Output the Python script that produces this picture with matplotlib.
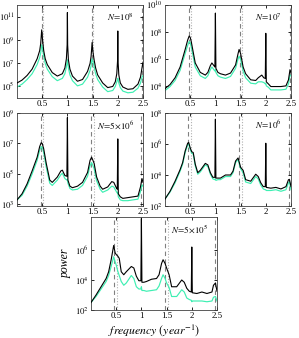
import numpy as np
import matplotlib
matplotlib.use('Agg')
import matplotlib.pyplot as plt

plt.rcParams['font.family'] = ['Liberation Serif', 'DejaVu Serif']
plt.rcParams['mathtext.fontset'] = 'stix'

# power spectra, values as log10(power)
f_1e8 = [0, 0.1, 0.2, 0.3, 0.4, 0.45, 0.47, 0.49, 0.51, 0.53, 0.56, 0.6, 0.7, 0.8, 0.9, 0.95, 0.98, 0.995, 1.0, 1.005,
         1.02, 1.05, 1.1, 1.2, 1.3, 1.4, 1.45, 1.47, 1.49, 1.51, 1.53, 1.56, 1.6, 1.7, 1.8, 1.9, 1.95, 1.98, 1.995, 2.0,
         2.005, 2.02, 2.05, 2.1, 2.2, 2.3, 2.4, 2.45, 2.48, 2.5]
black_1e8 = [5.3, 5.55, 5.95, 6.5, 7.4, 8.1, 8.7, 9.9, 8.9, 8.1, 7.4, 6.9, 6.2, 5.9, 6.1, 6.6, 7.4, 8.6, 11.4, 8.6,
             7.3, 6.5, 5.9, 5.45, 5.6, 6.3, 7.0, 7.6, 8.8, 7.9, 7.3, 6.6, 6.0, 5.3, 4.9, 5.0, 5.4, 6.1, 7.2, 9.8,
             7.2, 6.0, 5.3, 4.95, 4.75, 4.8, 5.2, 5.8, 6.6, 7.1]
green_1e8 = [4.95, 5.2, 5.6, 6.1, 6.9, 7.5, 7.9, 8.6, 8.2, 7.6, 7.0, 6.5, 5.85, 5.5, 5.7, 6.1, 6.7, 7.1, 7.3, 7.1,
             6.6, 6.0, 5.5, 5.05, 5.2, 5.8, 6.4, 6.8, 7.4, 7.1, 6.7, 6.1, 5.6, 4.95, 4.55, 4.65, 5.0, 5.4, 5.6, 5.7,
             5.6, 5.3, 4.9, 4.6, 4.45, 4.5, 4.85, 5.3, 5.8, 5.95]

f_1e7 = [0, 0.1, 0.2, 0.3, 0.4, 0.45, 0.48, 0.5, 0.52, 0.55, 0.6, 0.7, 0.8, 0.85, 0.9, 0.93, 0.97, 0.99, 1.0, 1.01,
         1.05, 1.1, 1.2, 1.3, 1.4, 1.45, 1.47, 1.5, 1.55, 1.6, 1.7, 1.8, 1.85, 1.92, 1.96, 1.99, 2.0, 2.01, 2.05, 2.1,
         2.2, 2.3, 2.4, 2.45, 2.48, 2.5]
black_1e7 = [3.8, 4.1, 4.6, 5.4, 6.7, 7.4, 7.7, 7.6, 7.3, 6.7, 5.7, 5.0, 4.8, 5.0, 5.5, 5.7, 5.5, 5.4, 9.4, 5.3,
             5.0, 4.9, 4.8, 4.95, 5.55, 6.4, 6.7, 6.4, 5.4, 4.9, 4.45, 4.4, 4.6, 4.8, 4.6, 4.55, 7.9, 4.3, 4.15, 3.95,
             3.95, 3.95, 4.0, 4.45, 5.2, 5.0]
green_1e7 = [3.65, 3.95, 4.4, 5.15, 6.4, 7.0, 7.3, 7.2, 6.9, 6.35, 5.4, 4.75, 4.55, 4.75, 5.2, 5.4, 5.2, 5.1, 5.2, 5.0,
             4.75, 4.65, 4.55, 4.7, 5.3, 6.0, 6.2, 5.95, 5.1, 4.6, 4.2, 4.15, 4.3, 4.3, 4.25, 4.15, 4.2, 4.0, 3.9, 3.7,
             3.7, 3.7, 3.75, 4.15, 4.8, 4.75]

f_5e6 = [0, 0.1, 0.2, 0.3, 0.4, 0.45, 0.48, 0.5, 0.53, 0.58, 0.65, 0.7, 0.8, 0.87, 0.9, 0.95, 0.99, 1.0, 1.01, 1.05,
         1.1, 1.2, 1.3, 1.4, 1.45, 1.48, 1.5, 1.53, 1.58, 1.65, 1.7, 1.8, 1.88, 1.92, 1.97, 1.99, 2.0, 2.01, 2.05, 2.1,
         2.2, 2.3, 2.4, 2.45, 2.48, 2.5]
black_5e6 = [3.3, 3.7, 4.35, 5.2, 6.1, 6.8, 7.05, 7.0, 6.65, 5.7, 4.6, 4.45, 4.8, 5.2, 5.25, 4.9, 4.85, 8.7, 4.6, 4.2,
             4.1, 4.2, 4.45, 5.1, 5.9, 6.1, 5.95, 5.7, 4.8, 4.2, 4.0, 4.15, 4.5, 4.45, 4.1, 4.0, 7.3, 3.7, 3.5, 3.4,
             3.45, 3.5, 3.55, 4.15, 4.7, 4.45]
green_5e6 = [3.3, 3.6, 4.2, 5.0, 5.9, 6.55, 6.8, 6.75, 6.4, 5.45, 4.4, 4.25, 4.6, 4.95, 5.05, 4.7, 4.6, 4.65, 4.4, 4.05,
             3.95, 4.0, 4.25, 4.85, 5.55, 5.75, 5.6, 5.35, 4.55, 4.0, 3.8, 3.95, 4.2, 4.15, 3.85, 3.75, 3.8, 3.5, 3.3, 3.25,
             3.25, 3.3, 3.35, 3.85, 4.3, 4.2]

f_1e6 = [0, 0.1, 0.2, 0.3, 0.35, 0.4, 0.45, 0.47, 0.5, 0.53, 0.56, 0.6, 0.65, 0.7, 0.8, 0.85, 0.9, 0.95, 0.99, 1.0,
         1.01, 1.05, 1.1, 1.2, 1.3, 1.35, 1.4, 1.45, 1.5, 1.55, 1.6, 1.7, 1.8, 1.85, 1.9, 1.95, 1.99, 2.0, 2.01, 2.1,
         2.2, 2.3, 2.4, 2.45, 2.47, 2.5]
black_1e6 = [2.45, 2.95, 3.6, 4.35, 4.8, 5.55, 6.05, 6.1, 5.75, 5.5, 5.45, 4.7, 4.15, 4.3, 4.75, 4.65, 4.15, 3.85, 3.85, 7.6,
             3.8, 3.8, 3.8, 4.0, 4.0, 4.25, 4.9, 5.1, 4.5, 4.3, 3.7, 3.6, 4.05, 3.9, 3.5, 3.25, 3.25, 6.05, 3.2, 3.15,
             3.2, 3.1, 3.25, 3.7, 3.7, 3.25]
green_1e6 = [2.45, 2.9, 3.5, 4.25, 4.7, 5.45, 5.95, 6.0, 5.65, 5.4, 5.35, 4.6, 4.05, 4.2, 4.65, 4.55, 4.05, 3.75, 3.7, 3.75,
             3.65, 3.7, 3.7, 3.9, 3.9, 4.15, 4.8, 5.0, 4.4, 4.15, 3.55, 3.45, 3.9, 3.75, 3.35, 3.1, 3.05, 3.05, 3.0, 3.0,
             3.05, 2.95, 3.05, 3.5, 3.55, 3.05]

f_5e5 = [0, 0.1, 0.2, 0.3, 0.35, 0.4, 0.45, 0.48, 0.5, 0.53, 0.56, 0.6, 0.65, 0.7, 0.8, 0.85, 0.9, 0.95, 0.99, 1.0,
         1.01, 1.05, 1.1, 1.2, 1.3, 1.35, 1.4, 1.43, 1.47, 1.5, 1.55, 1.6, 1.7, 1.8, 1.85, 1.9, 1.95, 1.99, 2.0, 2.01,
         2.1, 2.2, 2.3, 2.4, 2.43, 2.47, 2.5]
black_5e5 = [2.5, 3.0, 3.55, 4.1, 4.55, 5.35, 6.3, 5.8, 5.7, 5.6, 5.45, 4.55, 4.35, 4.55, 4.9, 4.8, 4.25, 3.95, 3.95, 8.1,
             3.85, 3.85, 3.9, 4.05, 4.1, 4.35, 5.1, 5.35, 5.1, 4.8, 4.35, 3.55, 3.55, 4.0, 3.85, 3.45, 3.25, 3.2, 6.2, 3.15,
             3.1, 3.2, 3.1, 3.2, 3.65, 3.8, 3.25]
green_5e5 = [2.5, 2.9, 3.4, 3.9, 4.3, 4.9, 5.55, 5.2, 5.0, 4.6, 4.3, 3.9, 3.65, 3.8, 4.3, 4.1, 3.55, 3.4, 3.4, 3.55,
             3.3, 3.3, 3.25, 3.3, 3.35, 3.6, 4.1, 4.35, 4.1, 3.8, 3.5, 2.9, 2.9, 3.35, 3.2, 2.8, 2.7, 2.65, 2.55, 2.6,
             2.6, 2.6, 2.55, 2.6, 2.85, 2.9, 2.6]

labels = [r'$\mathit{N\!=\!10^{8}}$', r'$\mathit{N\!=\!10^{7}}$', r'$\mathit{N\!=\!5{\times}10^{6}}$',
          r'$\mathit{N\!=\!10^{6}}$', r'$\mathit{N\!=\!5{\times}10^{5}}$']
dashed_lines = [[0.49, 1.49, 2.49], [0.48, 1.48, 2.48], [0.48, 1.47, 2.47], [0.46, 1.46, 2.46], [0.46, 1.46, 2.46]]
dotted_lines = [[0.515, 1.515], [0.52, 1.52], [0.52, 1.52], [0.52, 1.52], [0.52, 1.52]]
ylims = [(4, 12.05), (3.1, 10), (2.9, 9), (2, 8), (2, 8.2)]
yticks = [[5, 7, 9, 11], [4, 6, 8, 10], [3, 5, 7, 9], [2, 4, 6, 8], [2, 4, 6]]

W, H = 299, 338
# axes boxes in pixels: left, top, width, height
boxes = [(17, 5, 126, 93), (165, 5, 126, 93), (17, 113, 126, 93), (165, 113, 126, 93), (91, 217, 126, 93)]
series = [(f_1e8, black_1e8, green_1e8), (f_1e7, black_1e7, green_1e7), (f_5e6, black_5e6, green_5e6),
          (f_1e6, black_1e6, green_1e6), (f_5e5, black_5e5, green_5e5)]

fig = plt.figure(figsize=(W / 100, H / 100), dpi=100)
for i, (l, t, w, h) in enumerate(boxes):
    ax = fig.add_axes([l / W, 1 - (t + h) / H, w / W, h / H])
    f, b, g = series[i]
    for x in dashed_lines[i]:
        ax.axvline(x, color='#808080', ls=(0, (4, 3)), lw=0.8, zorder=1)
    for x in dotted_lines[i]:
        ax.axvline(x, color='#b0b0b0', ls=(0, (1, 1.5)), lw=0.8, zorder=1)
    ax.plot(f, 10 ** np.array(g), color='#3eefb2', lw=0.85, zorder=2)
    ax.plot(f, 10 ** np.array(b), color='black', lw=0.8, zorder=3)
    ax.set_yscale('log')
    ax.set_xlim(0, 2.5)
    ax.set_ylim(10 ** ylims[i][0], 10 ** ylims[i][1])
    ax.set_xticks([0.5, 1, 1.5, 2, 2.5])
    ax.set_xticklabels(['0.5', '1', '1.5', '2', '2.5'])
    ax.set_yticks([10.0 ** k for k in yticks[i]])
    ax.set_yticklabels([r'$10^{%d}$' % k for k in yticks[i]])
    ax.minorticks_off()
    ax.tick_params(direction='in', length=2.5, width=0.6, labelsize=6.3, pad=1.5, top=True, right=True)
    for s in ax.spines.values():
        s.set_linewidth(0.6)
        s.set_color('#404040')
    ax.text(0.93, 0.87, labels[i], transform=ax.transAxes, ha='right', va='center', fontsize=6.5)
    if i == 4:
        ax.set_ylabel('power', fontstyle='italic', fontsize=8.5)
        ax.yaxis.set_label_coords(-0.15, 0.5)
        ax.set_xlabel(r'$\mathit{frequency\ (year^{-1})}$', fontsize=8.5)
        ax.xaxis.set_label_coords(0.5, -0.13)

fig.savefig('out.png', dpi=100)
